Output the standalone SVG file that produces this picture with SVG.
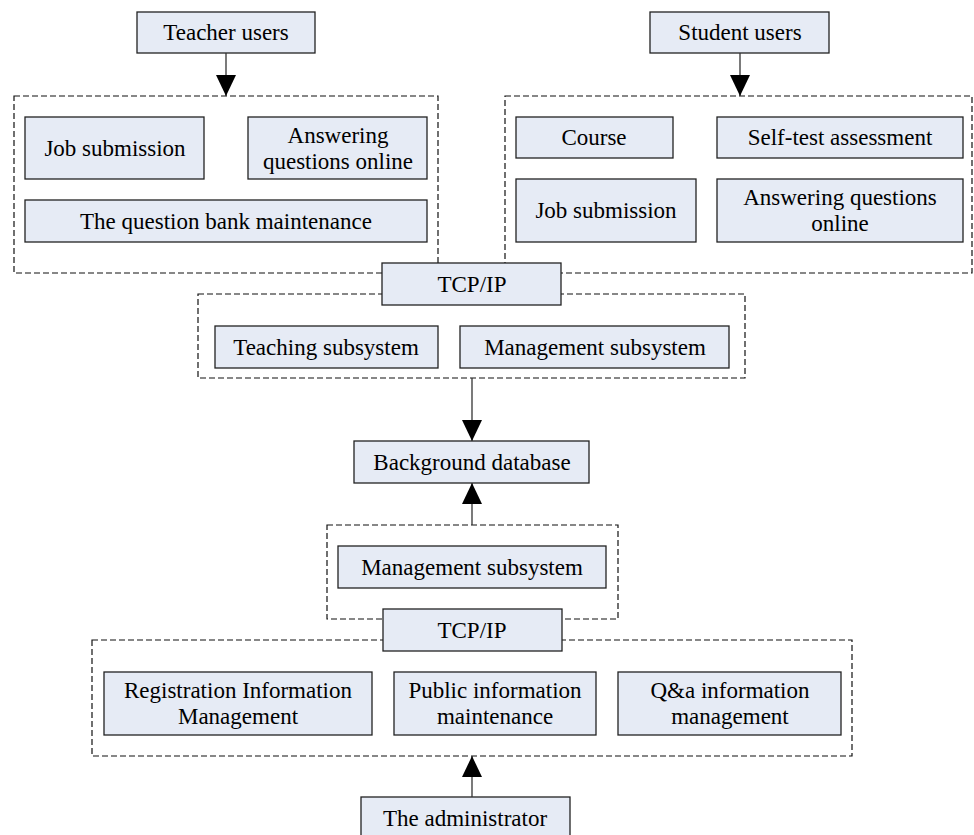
<svg xmlns="http://www.w3.org/2000/svg" width="974" height="835" viewBox="0 0 974 835">
<style>
.n rect{fill:#E6EBF5;stroke:#222;stroke-width:1.3}
.g{fill:none;stroke:#111;stroke-width:1.2;stroke-dasharray:6 3}
text{font-family:"Liberation Serif","Times New Roman",serif;font-size:23px;fill:#000;text-anchor:middle}
.c line{stroke:#333;stroke-width:1.3}
</style>
<defs>
<marker id="ah" markerUnits="userSpaceOnUse" markerWidth="21" markerHeight="20" viewBox="0 0 21 20" refX="21" refY="10" orient="auto">
<path d="M0,0 L21,10 L0,20 Z" fill="#000"/>
</marker>
</defs>
<rect id="grp-teacher" class="g" x="14" y="96" width="424" height="177"/>
<rect id="grp-student" class="g" x="505" y="96" width="467" height="177"/>
<rect id="grp-mid" class="g" x="198" y="294" width="547" height="84"/>
<rect id="grp-mgmt" class="g" x="327" y="525" width="291" height="94"/>
<rect id="grp-admin" class="g" x="92" y="640" width="760" height="116"/>
<g id="teacher-users" class="n"><rect x="137" y="12" width="178" height="41"/><text x="226" y="40">Teacher users</text></g>
<g id="student-users" class="n"><rect x="650" y="12" width="179" height="41"/><text x="740" y="40">Student users</text></g>
<g id="t-job" class="n"><rect x="25" y="117" width="179" height="62"/><text x="115" y="156">Job submission</text></g>
<g id="t-answer" class="n"><rect x="248" y="117" width="179" height="62"/><text x="338" y="143">Answering</text><text x="338" y="169">questions online</text></g>
<g id="t-bank" class="n"><rect x="25" y="200" width="402" height="42"/><text x="226" y="229">The question bank maintenance</text></g>
<g id="s-course" class="n"><rect x="516" y="117" width="157" height="41"/><text x="594" y="145">Course</text></g>
<g id="s-self" class="n"><rect x="717" y="117" width="246" height="41"/><text x="840" y="145">Self-test assessment</text></g>
<g id="s-job" class="n"><rect x="516" y="179" width="180" height="63"/><text x="606" y="218">Job submission</text></g>
<g id="s-answer" class="n"><rect x="717" y="179" width="246" height="63"/><text x="840" y="205">Answering questions</text><text x="840" y="231">online</text></g>
<g id="tcp1" class="n"><rect x="382" y="263" width="179" height="42"/><text x="472" y="292">TCP/IP</text></g>
<g id="teaching" class="n"><rect x="215" y="326" width="223" height="42"/><text x="326" y="355">Teaching subsystem</text></g>
<g id="mgmt1" class="n"><rect x="460" y="326" width="269" height="42"/><text x="595" y="355">Management subsystem</text></g>
<g id="db" class="n"><rect x="354" y="441" width="235" height="42"/><text x="472" y="470">Background database</text></g>
<g id="mgmt2" class="n"><rect x="338" y="546" width="268" height="42"/><text x="472" y="575">Management subsystem</text></g>
<g id="tcp2" class="n"><rect x="383" y="609" width="179" height="42"/><text x="472" y="638">TCP/IP</text></g>
<g id="reg" class="n"><rect x="104" y="672" width="268" height="63"/><text x="238" y="698">Registration Information</text><text x="238" y="724">Management</text></g>
<g id="pub" class="n"><rect x="394" y="672" width="202" height="63"/><text x="495" y="698">Public information</text><text x="495" y="724">maintenance</text></g>
<g id="qa" class="n"><rect x="618" y="672" width="223" height="63"/><text x="730" y="698">Q&amp;a information</text><text x="730" y="724">management</text></g>
<g id="admin" class="n"><rect x="361" y="797" width="209" height="40"/><text x="465" y="826">The administrator</text></g>
<g id="connectors" class="c">
<line x1="226" y1="53" x2="226" y2="96" marker-end="url(#ah)"/>
<line x1="740" y1="53" x2="740" y2="96" marker-end="url(#ah)"/>
<line x1="472" y1="378" x2="472" y2="441" marker-end="url(#ah)"/>
<line x1="472" y1="525" x2="472" y2="483" marker-end="url(#ah)"/>
<line x1="472" y1="797" x2="472" y2="756" marker-end="url(#ah)"/>
</g>
</svg>
